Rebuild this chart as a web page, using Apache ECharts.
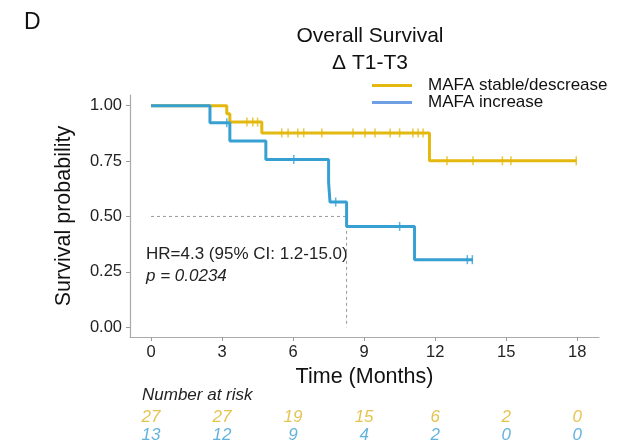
<!DOCTYPE html>
<html><head><meta charset="utf-8">
<script src="https://cdn.jsdelivr.net/npm/echarts@6/dist/echarts.min.js"></script>
<style>html,body{margin:0;padding:0;background:#fff}#c{width:625px;height:445px}</style>
</head><body><div id="c"></div>
<script>
// ---- data ----
var xTicks = [0, 3, 6, 9, 12, 15, 18];
var yTicks = [0, 0.25, 0.5, 0.75, 1.0];

var stableTimes = [0, 3.2, 3.33, 4.68, 11.76];
var stableSurv  = [1.0, 0.963, 0.926, 0.877, 0.751];
var stableEnd   = 17.96;
var stableCensor = [4.05, 4.3, 4.5, 5.52, 5.79, 6.2, 6.45, 7.21, 8.53, 9.04, 9.46, 10.1, 10.5, 11.06, 11.28, 11.49, 12.5, 13.6, 14.84, 15.2, 17.96];

var incTimes = [0, 2.49, 3.33, 4.85, 7.5, 7.56, 8.26, 11.13];
var incSurv  = [1.0, 0.923, 0.84, 0.757, 0.655, 0.565, 0.455, 0.305];
var incEnd   = 13.6;
var incCensor = [3.2, 6.03, 7.8, 10.5, 13.36, 13.57];

var medianInc = 8.26;

var riskTimes  = [0, 3, 6, 9, 12, 15, 18];
var riskStable = [27, 27, 19, 15, 6, 2, 0];
var riskInc    = [13, 12, 9, 4, 2, 0, 0];

var nameStable = 'MAFA stable/descrease';
var nameInc = 'MAFA increase';
// -------------------------------------

var cY = '#E3B80F', cB = '#36A0D3', cBLeg = '#6E9FE2';
var FONT = 'Liberation Sans, Arial, sans-serif';

function stepPts(times, surv, end) {
  var d = times.map(function (t, i) { return [t, surv[i]]; });
  d.push([end, surv[surv.length - 1]]);
  return d;
}
function survAt(times, surv, t) {
  var s = surv[0];
  for (var i = 0; i < times.length; i++) if (times[i] <= t) s = surv[i];
  return s;
}
function censorPts(times, surv, cens) {
  return cens.map(function (t) { return [t, survAt(times, surv, t)]; });
}

var chart = echarts.init(document.getElementById('c'), null, {renderer: 'canvas'});
chart.setOption({
  animation: false,
  textStyle: {fontFamily: FONT},
  title: {
    text: 'Overall Survival\nΔ T1-T3',
    left: 365, top: 18, textAlign: 'center',
    textStyle: {fontFamily: FONT, fontSize: 21, fontWeight: 'normal', color: '#111', lineHeight: 27}
  },
  legend: {
    orient: 'vertical', left: 372, top: 77, padding: 0, itemWidth: 40, itemHeight: 3, itemGap: 0,
    icon: 'rect',
    textStyle: {fontFamily: FONT, fontSize: 17, color: '#111', padding: [0, 0, 0, 11]},
    data: [
      {name: nameStable, itemStyle: {color: cY}},
      {name: nameInc, itemStyle: {color: cBLeg}}
    ]
  },
  graphic: [
    {type: 'text', left: 24, top: 11, style: {text: 'D', font: '23px ' + FONT, fill: '#111'}},
    {type: 'text', left: 146, top: 246, style: {text: 'HR=4.3 (95% CI: 1.2-15.0)', font: '17px ' + FONT, fill: '#222'}},
    {type: 'text', left: 146, top: 268, style: {text: 'p = 0.0234', font: 'italic 17px ' + FONT, fill: '#222'}},
    {type: 'text', left: 142, top: 387, style: {text: 'Number at risk', font: 'italic 17px ' + FONT, fill: '#222'}}
  ],
  grid: [
    {left: 130, right: 26, top: 95, bottom: 108},
    {left: 130, right: 26, top: 408, height: 42}
  ],
  xAxis: [
    {
      type: 'value', gridIndex: 0, min: -0.887, max: 18.92,
      name: 'Time (Months)', nameLocation: 'middle', nameGap: 28,
      nameTextStyle: {fontFamily: FONT, fontSize: 21.5, color: '#111', verticalAlign: 'top'},
      axisLine: {onZero: false, lineStyle: {color: '#aaa', width: 1.2}},
      axisTick: {length: 4, lineStyle: {color: '#999'}, customValues: xTicks},
      axisLabel: {customValues: xTicks, fontSize: 16.5, color: '#222', margin: 7, fontFamily: FONT},
      splitLine: {show: false}
    },
    {type: 'value', gridIndex: 1, min: -0.887, max: 18.92, show: false}
  ],
  yAxis: [
    {
      type: 'value', gridIndex: 0, min: -0.044, max: 1.048,
      name: 'Survival probability', nameLocation: 'middle', nameGap: 55, nameRotate: 90,
      nameTextStyle: {fontFamily: FONT, fontSize: 21.5, color: '#111'},
      axisLine: {show: true, onZero: false, lineStyle: {color: '#aaa', width: 1.2}},
      axisTick: {show: true, length: 4, lineStyle: {color: '#999'}, customValues: yTicks},
      axisLabel: {customValues: yTicks, fontSize: 16.5, color: '#222', margin: 8, fontFamily: FONT,
        formatter: function (v) { return v.toFixed(2); }},
      splitLine: {show: false}
    },
    {type: 'category', gridIndex: 1, data: ['stable', 'inc'], inverse: true, show: false}
  ],
  series: [
    {
      name: 'median', type: 'line', xAxisIndex: 0, yAxisIndex: 0, silent: true,
      data: [[0, 0.5], [medianInc, 0.5], [medianInc, 0]], symbol: 'none',
      lineStyle: {color: '#999', width: 1, type: [3, 3]}, z: 1
    },
    {
      name: nameStable, type: 'line', step: 'end', data: stepPts(stableTimes, stableSurv, stableEnd),
      symbol: 'none', lineStyle: {color: cY, width: 3}, itemStyle: {color: cY}, z: 3
    },
    {
      name: nameInc, type: 'line', step: 'end', data: stepPts(incTimes, incSurv, incEnd),
      symbol: 'none', lineStyle: {color: cB, width: 3}, itemStyle: {color: cB}, z: 4
    },
    {
      name: 'cs', type: 'scatter', data: censorPts(stableTimes, stableSurv, stableCensor),
      symbol: 'rect', symbolSize: [1.5, 9], itemStyle: {color: cY}, z: 3
    },
    {
      name: 'ci', type: 'scatter', data: censorPts(incTimes, incSurv, incCensor),
      symbol: 'rect', symbolSize: [1.5, 9], itemStyle: {color: cB}, z: 4
    },
    {
      name: 'riskS', type: 'scatter', xAxisIndex: 1, yAxisIndex: 1, symbolSize: 0,
      data: riskTimes.map(function (t, i) { return [t, 'stable', riskStable[i]]; }),
      label: {show: true, position: 'inside', formatter: function (p) { return p.value[2]; },
        fontFamily: FONT, fontSize: 17, fontStyle: 'italic', color: '#DDB426'}
    },
    {
      name: 'riskI', type: 'scatter', xAxisIndex: 1, yAxisIndex: 1, symbolSize: 0,
      data: riskTimes.map(function (t, i) { return [t, 'inc', riskInc[i]]; }),
      label: {show: true, position: 'inside', formatter: function (p) { return p.value[2]; },
        fontFamily: FONT, fontSize: 17, fontStyle: 'italic', color: '#3C9FD2'}
    }
  ]
});
</script></body></html>
